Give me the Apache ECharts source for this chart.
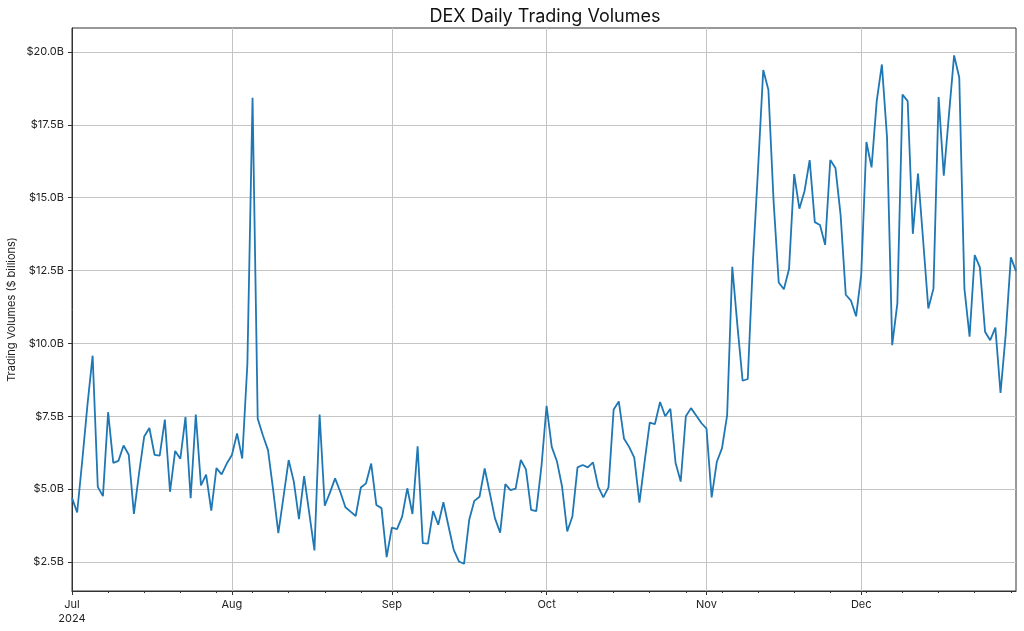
<!DOCTYPE html>
<html>
<head>
<meta charset="utf-8">
<script src="https://cdn.jsdelivr.net/npm/echarts@6/dist/echarts.min.js"></script>
<style>
  html, body { margin: 0; padding: 0; background: #fff; }
  #chart { width: 1024px; height: 631px; }
</style>
</head>
<body>
<div id="chart"></div>
<script>
// daily volumes in $ billions, one array per month (2024)
const volJul = [4.70, 4.20, 6.00, 7.90, 9.58, 5.08, 4.76, 7.64, 5.90, 5.97, 6.50, 6.18, 4.15, 5.55, 6.81, 7.10,
    6.18, 6.15, 7.39, 4.91, 6.31, 6.04, 7.47, 4.69, 7.56, 5.13, 5.50, 4.26, 5.72, 5.51, 5.88]
const volAug = [6.17, 6.91, 6.05, 9.30, 18.43, 7.42, 6.85, 6.34, 4.97, 3.49, 4.74, 6.00, 5.26, 3.97, 5.45, 4.17,
    2.90, 7.56, 4.43, 4.88, 5.37, 4.91, 4.38, 4.23, 4.08, 5.06, 5.20, 5.88, 4.46, 4.35, 2.67]
const volSep = [3.68, 3.63, 4.06, 5.03, 4.15, 6.47, 3.15, 3.13, 4.25, 3.78, 4.55, 3.72, 2.92, 2.52, 2.44, 3.95,
    4.60, 4.74, 5.71, 4.86, 4.00, 3.51, 5.17, 4.97, 5.02, 6.00, 5.68, 4.29, 4.25, 5.77]
const volOct = [7.86, 6.45, 5.96, 5.09, 3.55, 4.06, 5.75, 5.83, 5.75, 5.92, 5.09, 4.72, 5.06, 7.73, 8.01, 6.74,
    6.45, 6.08, 4.54, 5.94, 7.28, 7.23, 7.99, 7.50, 7.76, 5.91, 5.26, 7.50, 7.78, 7.53, 7.27]
const volNov = [7.08, 4.72, 5.94, 6.40, 7.53, 12.63, 10.60, 8.72, 8.78, 12.80, 16.00, 19.38, 18.70, 14.90, 12.09,
    11.86, 12.55, 15.81, 14.62, 15.22, 16.29, 14.16, 14.06, 13.38, 16.29, 16.02, 14.40, 11.67, 11.47, 10.93]
const volDec = [12.37, 16.91, 16.04, 18.31, 19.57, 17.06, 9.94, 11.37, 18.54, 18.31, 13.76, 15.83, 13.53, 11.20,
    11.88, 18.45, 15.75, 17.84, 19.88, 19.12, 11.88, 10.23, 13.03, 12.61, 10.40, 10.11, 10.54, 8.30, 10.30, 12.95, 12.48]

const monthNames = ["Jul", "Aug", "Sep", "Oct", "Nov", "Dec"]
const yTicks = [2.5, 5.0, 7.5, 10.0, 12.5, 15.0, 17.5, 20.0]

const volumes = [].concat(volJul, volAug, volSep, volOct, volNov, volDec)
const start = new Date(2024, 6, 1).getTime()
const dayMs = 86400000
let data = []
for (let i = 0; i < volumes.length; i++) {
    data.push([new Date(2024, 6, 1 + i).getTime(), volumes[i]])
}
const xMin = start
const xMax = new Date(2024, 11, 31).getTime()
const monthTicks = monthNames.map((m, i) => new Date(2024, 6 + i, 1).getTime())
let weekTicks = []
for (let t = start; t <= xMax; t += 7 * dayMs) weekTicks.push(t)

const font = "Inter, 'Liberation Sans', sans-serif"
const chart = echarts.init(document.getElementById("chart"), null, {renderer: "canvas"})
chart.setOption({
    animation: false,
    title: {
        text: "DEX Daily Trading Volumes",
        left: 540,
        textAlign: "center",
        top: 3,
        textStyle: { fontFamily: font, fontSize: 18, fontWeight: "normal", color: "#111" },
    },
    grid: {
        left: 72, right: 8, top: 28, bottom: 40,
        outerBoundsMode: "none",
        show: true, borderColor: "#333", borderWidth: 1,
    },
    xAxis: [{
        type: "value",
        min: xMin,
        max: xMax,
        position: "bottom",
        axisLine: { lineStyle: { color: "#333", width: 1 }},
        axisTick: { show: true, length: 4, lineStyle: { color: "#333" }, customValues: monthTicks },
        axisLabel: {
            customValues: monthTicks,
            margin: 7,
            color: "#222",
            fontFamily: font,
            fontSize: 11,
            lineHeight: 14,
            formatter: function (v) {
                const d = new Date(v)
                const name = monthNames[d.getMonth() - 6]
                return d.getMonth() === 6 ? name + "\n2024" : name
            },
        },
        splitLine: { show: true, lineStyle: { color: "#c4c4c4", width: 1 }},
    }, {
        type: "value",
        min: xMin,
        max: xMax,
        position: "bottom",
        gridIndex: 0,
        axisLine: { show: false },
        axisTick: { show: true, length: 2, lineStyle: { color: "#333" }, customValues: weekTicks },
        axisLabel: { show: false },
        splitLine: { show: false },
    }],
    yAxis: {
        type: "value",
        min: 1.507,
        max: 20.82,
        name: "Trading Volumes ($ billions)",
        nameLocation: "middle",
        nameGap: 55,
        nameMoveOverlap: false,
        nameTextStyle: { fontFamily: font, fontSize: 11, color: "#222" },
        axisLine: { show: true, lineStyle: { color: "#333", width: 1 }},
        axisTick: { show: true, length: 4, lineStyle: { color: "#333" }, customValues: yTicks },
        axisLabel: {
            customValues: yTicks,
            margin: 8,
            color: "#222",
            fontFamily: font,
            fontSize: 11,
            formatter: v => "$" + v.toFixed(1) + "B",
        },
        splitLine: { show: true, lineStyle: { color: "#c4c4c4", width: 1 }},
    },
    series: [{
        type: "line",
        data: data,
        xAxisIndex: 0,
        showSymbol: false,
        lineStyle: { color: "#1f77b4", width: 1.8 },
        itemStyle: { color: "#1f77b4" },
    }],
})
</script>
</body>
</html>
